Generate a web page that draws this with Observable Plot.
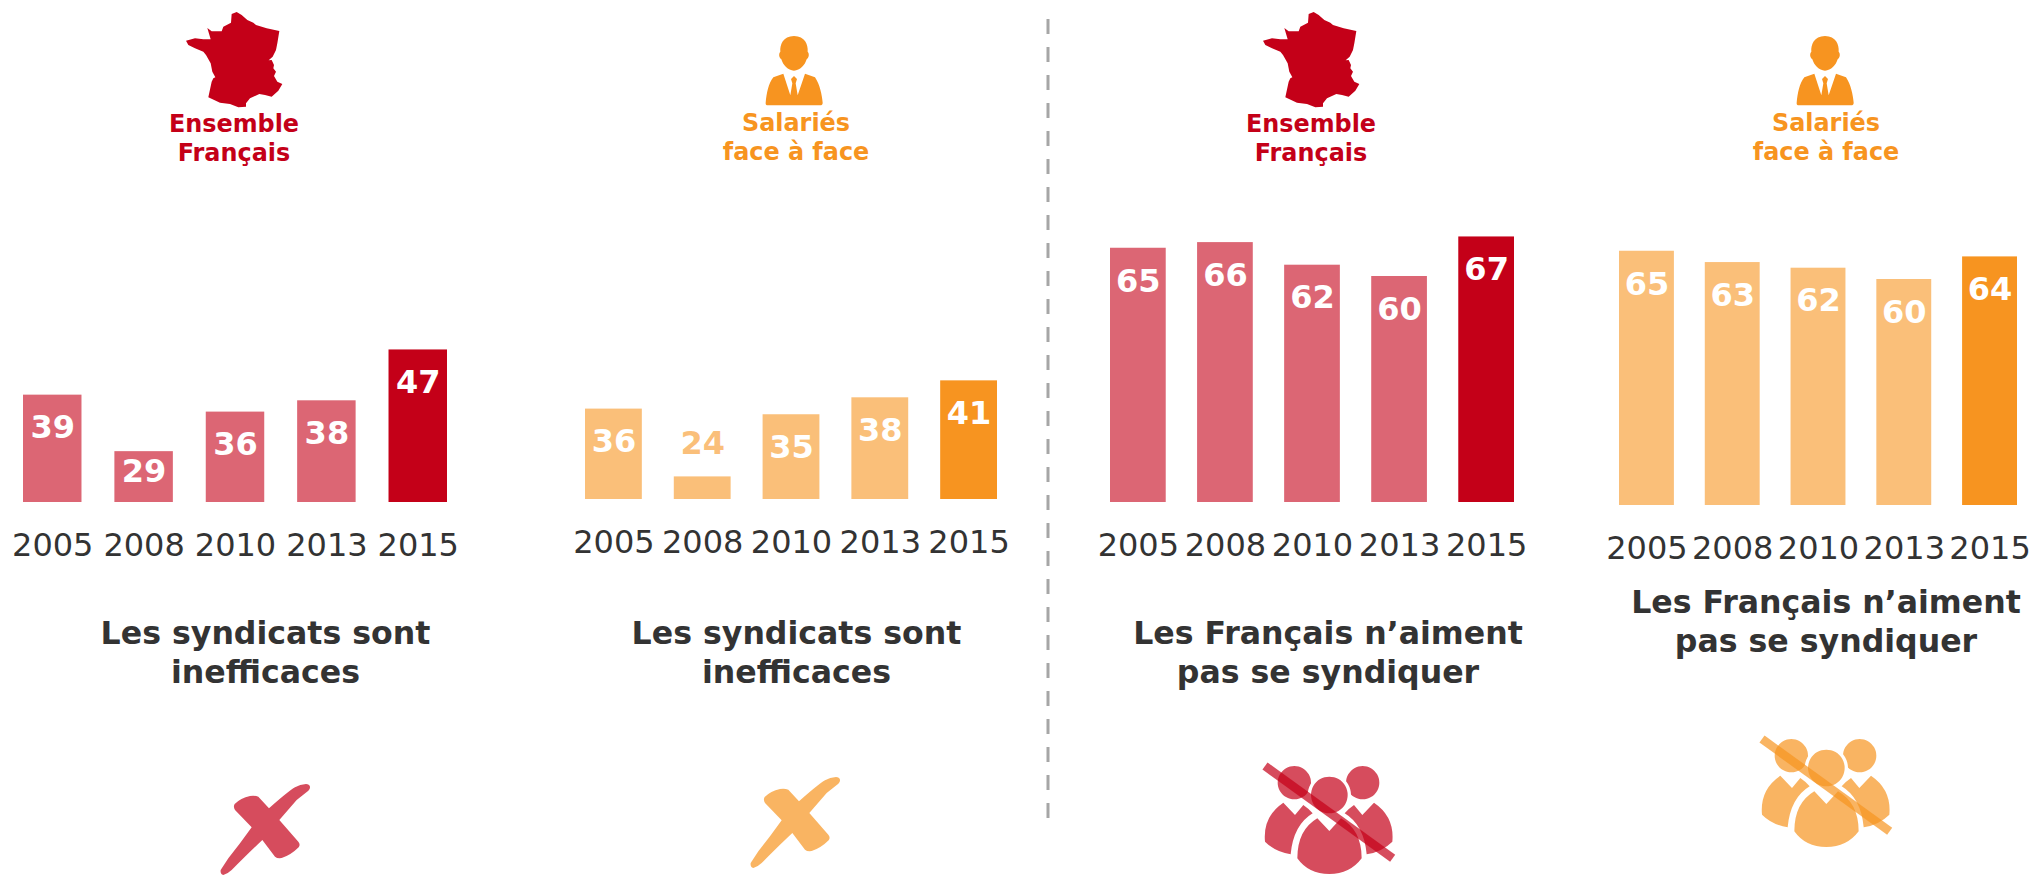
<!DOCTYPE html>
<html lang="fr">
<head>
<meta charset="utf-8">
<title>Syndicats</title>
<script src="https://cdn.jsdelivr.net/npm/d3@7"></script>
<script src="https://cdn.jsdelivr.net/npm/@observablehq/plot@0.6"></script>
<style>
  html, body { margin: 0; background: #fff; }
  #page { position: relative; width: 2031px; height: 875px; overflow: hidden;
          font-family: "DejaVu Sans", sans-serif; }
  .panel { position: absolute; top: 200px; }
  .panel svg { background: transparent; overflow: visible; display: block; }
  .txt { position: absolute; transform: translateX(-50%); text-align: center; white-space: nowrap; font-weight: 700; }
  .head { font-size: 23.9px; line-height: 29px; }
  .claim { font-size: 31.6px; line-height: 38.5px; color: #333; }
  #deco { position: absolute; left: 0; top: 0; }
</style>
</head>
<body>
<div id="page">
  <svg id="deco" width="2031" height="875" viewBox="0 0 2031 875"></svg>
</div>
<script>
// ---- data ----
const years = [2005, 2008, 2010, 2013, 2015];
const francaisIneff = [39, 29, 36, 38, 47];
const salariesIneff = [36, 24, 35, 38, 41];
const francaisSynd  = [65, 66, 62, 60, 67];
const salariesSynd  = [65, 63, 62, 60, 64];

const RED = "#C40018", ORANGE = "#F79420", INK = "#333333";
const axisFloor = 20;          // the reference's bars start at 20, not at 0
const pxPerUnit = 5.65;

const panels = [
  {values: francaisIneff, tone: RED,    left: 23,   right: 447,  base: 502},
  {values: salariesIneff, tone: ORANGE, left: 585,  right: 997,  base: 499},
  {values: francaisSynd,  tone: RED,    left: 1110, right: 1514, base: 502},
  {values: salariesSynd,  tone: ORANGE, left: 1619, right: 2017, base: 505}
];

const page = document.getElementById("page");
const TOP = 200, H = 380, SIDE = 14;

for (const p of panels) {
  const rows = years.map((year, i) => ({year, v: p.values[i], kind: year === 2015 ? "latest" : "past"}));
  const zero = p.base - TOP;
  const labelStyle = {x: "year", y: "v", text: d => String(d.v), fontSize: 32, fontWeight: 700};
  const plot = Plot.plot({
    width: p.right - p.left + 2 * SIDE,
    height: H,
    marginLeft: SIDE, marginRight: SIDE, marginTop: 0, marginBottom: H - zero,
    style: {background: "transparent", fontFamily: '"DejaVu Sans", sans-serif'},
    x: {type: "band", domain: years, paddingInner: 0.36, paddingOuter: 0, round: false, label: null},
    y: {domain: [axisFloor, 70], range: [zero, zero - 50 * pxPerUnit], axis: null},
    color: {domain: ["past", "latest"], range: [p.tone, p.tone]},
    marks: [
      Plot.barY(rows, {x: "year", y1: () => axisFloor, y2: "v", fill: "kind",
                       fillOpacity: d => d.kind === "latest" ? 1 : 0.6}),
      Plot.text(rows.filter(d => d.v >= 30), {...labelStyle, dy: 33, fill: "#fff"}),
      Plot.text(rows.filter(d => d.v === 29), {...labelStyle, dy: 20, fill: "#fff"}),
      Plot.text(rows.filter(d => d.v === 24), {...labelStyle, dy: -33, fill: p.tone, fillOpacity: 0.6}),
      Plot.axisX({domain: years, tickSize: 0, tickPadding: 30.5, fontSize: 32, fill: INK,
                  tickFormat: d => String(d), label: null})
    ]
  });
  const holder = document.createElement("div");
  holder.className = "panel";
  holder.style.left = (p.left - SIDE) + "px";
  holder.append(plot);
  page.append(holder);
}

// ---- headings and claims (real text) ----
const texts = [
  {c: "head",  x: 234,  y: 109.5, color: RED,    lines: ["Ensemble", "Français"]},
  {c: "head",  x: 796,  y: 109,   color: ORANGE, lines: ["Salariés", "face à face"]},
  {c: "head",  x: 1311, y: 109.5, color: RED,    lines: ["Ensemble", "Français"]},
  {c: "head",  x: 1826, y: 109,   color: ORANGE, lines: ["Salariés", "face à face"]},
  {c: "claim", x: 265.5, y: 614,  color: INK,    lines: ["Les syndicats sont", "inefficaces"]},
  {c: "claim", x: 796.5, y: 614,  color: INK,    lines: ["Les syndicats sont", "inefficaces"]},
  {c: "claim", x: 1328, y: 614,   color: INK,    lines: ["Les Français n’aiment", "pas se syndiquer"]},
  {c: "claim", x: 1826, y: 583,   color: INK,    lines: ["Les Français n’aiment", "pas se syndiquer"]}
];
for (const t of texts) {
  const d = document.createElement("div");
  d.className = "txt " + t.c;
  d.style.left = t.x + "px";
  d.style.top = t.y + "px";
  d.style.color = t.color;
  t.lines.forEach((l, i) => { if (i) d.append(document.createElement("br")); d.append(l); });
  page.append(d);
}

// ---- decoration: separator and pictograms ----
const FRANCE = "M185 42L200 36L215 45L232 60L250 68L258 75L290 85L328 93L322 130L318 150L308 170L296 181L305 180L312 195L310 205L318 215L312 228L322 245L337 252L325 272L305 290L285 285L268 282L240 295L228 310L228 320L205 322L180 312L150 308L115 292L125 245L130 235L136 232L127 215L122 190L108 165L100 155L75 145L55 135L48 122L75 115L100 118L122 118L112 84L125 94L155 94L160 80L183 68Z";
const MAN = "M162 48C195 48 205 75 203 95C208 100 208 112 200 118C195 135 180 152 162 152C144 152 129 135 124 118C116 112 116 100 121 95C119 75 129 48 162 48Z" +
  "M100 172L130 161L151 226L157 190L153 177L162 168L171 177L167 190L173 226L195 161L225 172C240 195 246 225 248 248Q248 256 240 256L84 256Q76 256 77 248C80 220 85 190 100 172Z";
const CROSS = "M330 50Q328 42 318 42Q300 43 285 52Q262 66 207 115L175 80Q165 76 150 78Q122 84 104 102Q99 110 105 120L155 172L120 220L85 265L62 300Q60 312 70 315Q82 312 95 300L115 280L150 245L187 210L225 260Q232 266 245 264Q272 256 296 232Q302 224 295 215L238 150L290 90L325 62Q331 56 330 50Z";
const SIDES = "M163 48a50 50 0 1 0 .01 0Z M368 48a50 50 0 1 0 .01 0Z" +
  "M130 158L165 195L190 165Q205 175 218 190Q160 225 152 313Q105 305 75 275Q68 200 130 158Z" +
  "M402 158L367 195L342 165Q327 175 314 190Q372 225 380 313Q427 305 457 275Q464 200 402 158Z";
const MIDDLE = "M268 80a55 55 0 1 0 .01 0Z M232 205L268 243L303 205Q365 240 365 325Q330 372 268 372Q205 372 172 325Q172 240 232 205Z";

const deco = d3.select("#deco");
deco.append("line").attr("x1", 1048).attr("x2", 1048).attr("y1", 19).attr("y2", 820)
  .attr("stroke", "#A6A6A6").attr("stroke-width", 3).attr("stroke-dasharray", "15 13");

function icon(path, x, y, fill, op) {
  return deco.append("path").attr("d", path).attr("transform", `translate(${x},${y}) scale(${1/3})`)
    .attr("fill", fill).attr("fill-opacity", op);
}
icon(FRANCE, 170, 0, RED, 1);
icon(FRANCE, 1247, 0, RED, 1);
icon(MAN, 740, 20, ORANGE, 1);
icon(MAN, 1771, 20, ORANGE, 1);
icon(CROSS, 200, 770, RED, 0.7);
icon(CROSS, 730, 763, ORANGE, 0.7);
function group(x, y, tone) {
  icon(SIDES, x, y, tone, 0.7);
  icon("M268 70a65 65 0 1 0 .01 0Z", x, y, "#fff", 1);
  icon(MIDDLE, x, y, tone, 0.7);
  deco.append("line").attr("transform", `translate(${x},${y}) scale(${1/3})`)
    .attr("x1", 75).attr("y1", 48).attr("x2", 458).attr("y2", 325)
    .attr("stroke", tone).attr("stroke-opacity", 0.7).attr("stroke-width", 26);
}
group(1240, 750, RED);
group(1737, 723, ORANGE);
</script>
</body>
</html>
